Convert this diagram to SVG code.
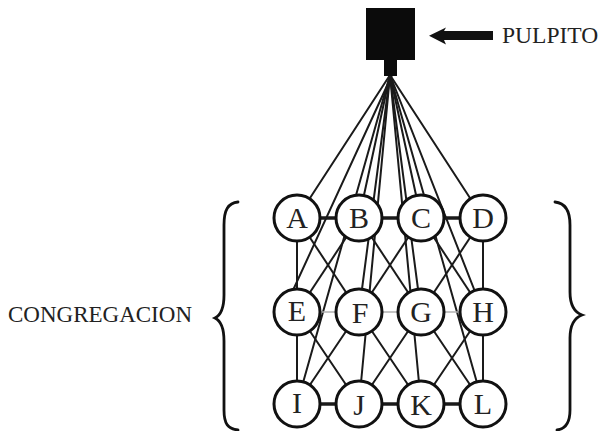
<svg xmlns="http://www.w3.org/2000/svg" width="600" height="431" viewBox="0 0 600 431">
<style>
.ln{stroke:#1a1a1a;stroke-width:2;fill:none;stroke-linecap:round}
.hz{stroke:#1a1a1a;stroke-width:3.5;fill:none}
.hg{stroke:#b0b0b0;stroke-width:1.3;fill:none}
.nd circle{fill:#fff;stroke:#111;stroke-width:3}
.lb{font-family:"Liberation Serif","Times New Roman",serif;font-size:30px;fill:#222;text-anchor:middle}
.tx{font-family:"Liberation Serif","Times New Roman",serif;font-size:23.5px;fill:#222}
.br{stroke:#111;stroke-width:2.8;fill:none;stroke-linecap:round}
</style>
<rect width="600" height="431" fill="#fff"/>
<g id="connectors">
<line class="ln" x1="390" y1="75" x2="297" y2="218"/>
<line class="ln" x1="390" y1="75" x2="359" y2="218"/>
<line class="ln" x1="390" y1="75" x2="421" y2="218"/>
<line class="ln" x1="390" y1="75" x2="483" y2="218"/>
<line class="ln" x1="392" y1="75" x2="283" y2="312"/>
<line class="ln" x1="390" y1="75" x2="359" y2="312"/>
<line class="ln" x1="390" y1="75" x2="421" y2="312"/>
<line class="ln" x1="390" y1="75" x2="483" y2="312"/>
<line class="ln" x1="390" y1="75" x2="297" y2="404"/>
<line class="ln" x1="390" y1="75" x2="359" y2="404"/>
<line class="ln" x1="390" y1="75" x2="421" y2="404"/>
<line class="ln" x1="390" y1="75" x2="483" y2="404"/>
<line class="ln" x1="297" y1="218" x2="297" y2="404"/>
<line class="ln" x1="483" y1="218" x2="483" y2="404"/>
<line class="ln" x1="297" y1="218" x2="359" y2="312"/>
<line class="ln" x1="359" y1="218" x2="297" y2="312"/>
<line class="ln" x1="359" y1="218" x2="421" y2="312"/>
<line class="ln" x1="421" y1="218" x2="359" y2="312"/>
<line class="ln" x1="421" y1="218" x2="483" y2="312"/>
<line class="ln" x1="483" y1="218" x2="421" y2="312"/>
<line class="ln" x1="297" y1="312" x2="359" y2="404"/>
<line class="ln" x1="359" y1="312" x2="297" y2="404"/>
<line class="ln" x1="359" y1="312" x2="421" y2="404"/>
<line class="ln" x1="421" y1="312" x2="359" y2="404"/>
<line class="ln" x1="421" y1="312" x2="483" y2="404"/>
<line class="ln" x1="483" y1="312" x2="421" y2="404"/>
<line class="hz" x1="297" y1="218" x2="483" y2="218"/>
<line class="hg" x1="297" y1="312" x2="483" y2="312"/>
<line class="hz" x1="297" y1="404" x2="483" y2="404"/>
</g>
<g id="pulpito">
<rect x="366" y="8" width="49" height="52" fill="#0b0b0b"/>
<rect x="384" y="58" width="13" height="18" fill="#0b0b0b"/>
<polygon points="429,35.7 446,27.5 444,31 493,31 493,40 444,40 446,44.5" fill="#111"/>
<text class="tx" x="502" y="43">PULPITO</text>
</g>
<g id="A" class="nd"><circle cx="297" cy="218" r="23"/><text class="lb" x="297" y="228">A</text></g>
<g id="B" class="nd"><circle cx="359" cy="218" r="23"/><text class="lb" x="359" y="228">B</text></g>
<g id="C" class="nd"><circle cx="421" cy="218" r="23"/><text class="lb" x="421" y="228">C</text></g>
<g id="D" class="nd"><circle cx="483" cy="218" r="23"/><text class="lb" x="483" y="228">D</text></g>
<g id="E" class="nd"><circle cx="297" cy="312" r="23"/><text class="lb" x="297" y="321">E</text></g>
<g id="F" class="nd"><circle cx="359" cy="312" r="23"/><text class="lb" x="360" y="323">F</text></g>
<g id="G" class="nd"><circle cx="421" cy="312" r="23"/><text class="lb" x="421" y="322">G</text></g>
<g id="H" class="nd"><circle cx="483" cy="312" r="23"/><text class="lb" x="483" y="322">H</text></g>
<g id="I" class="nd"><circle cx="297" cy="404" r="23"/><text class="lb" x="297" y="413">I</text></g>
<g id="J" class="nd"><circle cx="359" cy="404" r="23"/><text class="lb" x="359" y="415">J</text></g>
<g id="K" class="nd"><circle cx="421" cy="404" r="23"/><text class="lb" x="421" y="415">K</text></g>
<g id="L" class="nd"><circle cx="483" cy="404" r="23"/><text class="lb" x="483" y="414">L</text></g>
<g id="congregacion">
<text class="tx" x="8" y="322" style="font-size:23px">CONGREGACION</text>
<path class="br" d="M238,202 C228,203 224,210 224,225 L224,295 C224,308 221,315 215,318 C221,321 224,328 224,341 L224,410 C224,424 228,429 238,430"/>
<path class="br" d="M555,202 C565,203 570,210 570,225 L570,292 C570,305 574,312 582,315 C574,318 570,325 570,338 L570,410 C570,424 565,429 557,430"/>
</g>
</svg>
